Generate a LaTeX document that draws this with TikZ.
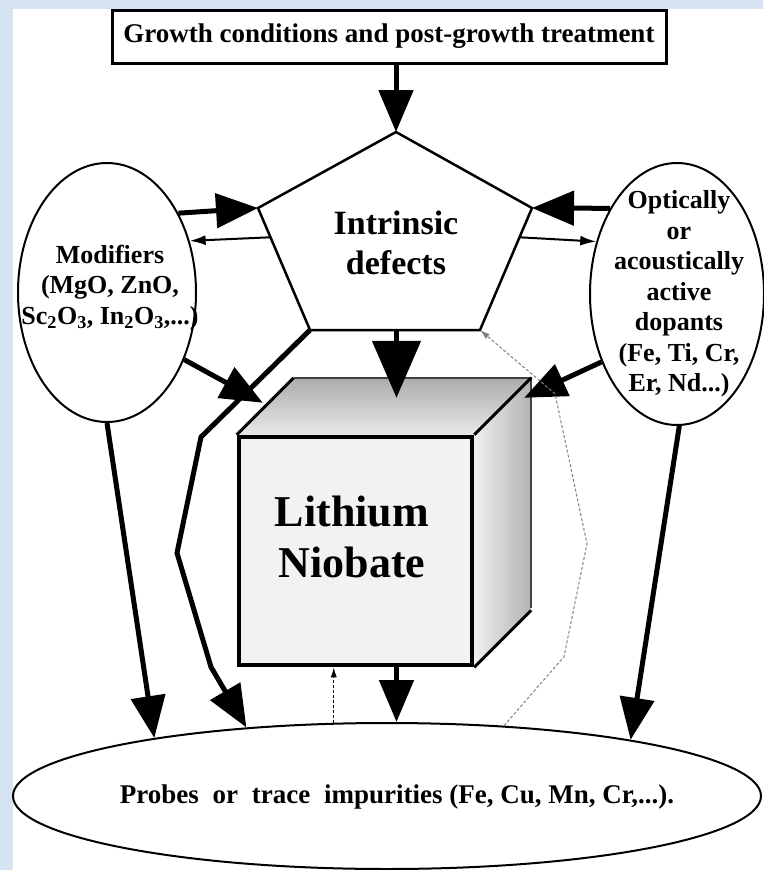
\documentclass[tikz,border=0pt]{standalone}
\usepackage{fontspec}
\setmainfont{Liberation Serif}
\usetikzlibrary{arrows.meta,shapes.geometric,calc}
\definecolor{bgblue}{RGB}{213,227,243}

\begin{document}
\begin{tikzpicture}[x=1pt, y=-1pt,
    base/.style = {draw=black, line width=2pt, inner sep=0pt},
    oval/.style = {base, ellipse},
    label/.style = {align=center, font=\bfseries\fontsize{26}{30.5}\selectfont},
    heavy/.style = {line width=5pt, -{Triangle[length=42pt,width=34pt]}},
    light/.style = {line width=2pt, -{Latex[length=16pt,width=10pt]}},
    faint/.style = {line width=1pt, densely dashed, -{Latex[length=10pt,width=6pt]}}
]
  % background
  \fill[bgblue] (0,0) rectangle (763,870);
  \fill[white] (13,9) rectangle (763,870);
  \useasboundingbox (0,0) rectangle (763,870);

  \node (growth) [base, line width=3pt, minimum width=554pt, minimum height=53pt,
    font=\bfseries\fontsize{27}{30}\selectfont] at (389,36.5)
    {Growth conditions and post-growth treatment};

  % pentagon
  \coordinate (ptop) at (396,132);
  \coordinate (pur) at (532,208);
  \coordinate (plr) at (480,330);
  \coordinate (pll) at (310,330);
  \coordinate (pul) at (258,208);
  \draw[line width=2.5pt] (ptop) -- (pur) -- (plr) -- (pll) -- (pul) -- cycle;
  \node (defects) [label, font=\bfseries\fontsize{34}{40}\selectfont] at (396,243) {Intrinsic\\defects};

  % side ellipses
  \node (mod) [oval, minimum width=178pt, minimum height=259pt] at (107,292.5) {};
  \node (modtext) [label] at (110,287.5)
    {Modifiers\\(MgO, ZnO,\\Sc\textsubscript{2}O\textsubscript{3}, In\textsubscript{2}O\textsubscript{3},...)};
  \node (dop) [oval, minimum width=174pt, minimum height=262pt] at (677,294) {};
  \node (doptext) [label] at (679,294)
    {Optically\\or\\acoustically\\active\\dopants\\(Fe, Ti, Cr,\\Er, Nd...)};

  % bottom ellipse
  \node (probe) [oval, minimum width=748pt, minimum height=146pt] at (387,796) {};
  \node (probetext) [label, font=\bfseries\fontsize{27}{30}\selectfont] at (397,797)
    {Probes\hspace{7pt} or\hspace{7pt} trace\hspace{7pt} impurities (Fe, Cu, Mn, Cr,...).};

  % crystal
  \node (cube) [draw, line width=4.5pt, fill=gray!10, minimum width=233pt,
    minimum height=228pt, inner sep=0pt] at (355.5,551) {};
  \shade[top color=gray!65, bottom color=gray!18] (cube.north west) -- ++(57,-57)
    -- ++(237,0) -- (cube.north east) -- cycle;
  \shade[left color=gray!12, right color=gray!60] (cube.north east) -- ++(57,-57)
    -- ++(0,230) -- (cube.south east) -- cycle;
  \draw[line width=1.5pt, black!75] (cube.north west) ++(57,-57) -- ++(237,0) -- ++(0,230);
  \draw[line width=3pt] (cube.north west) -- ++(57,-57);
  \draw[line width=3pt] (cube.north east) -- ++(57,-57);
  \draw[line width=3pt] (cube.south east) -- ++(57,-57);
  \node (lnb) [font=\bfseries\fontsize{44}{51}\selectfont, align=center] at (352,537) {Lithium\\Niobate};

  \coordinate (ctop) at ($(cube.north)+(41,-37)$);
  \coordinate (cleft) at ($(cube.north west)+(26,-32)$);
  \coordinate (cright) at ($(cube.north east)+(50,-37)$);

  % connectors
  \draw[heavy] (growth.south -| ptop) -- (ptop);
  \draw[heavy] (mod.48) -- (pul);
  \draw[light] ($(pul)!0.24!(pll)$) -- (mod.32);
  \draw[heavy] (dop.128) -- (pur);
  \draw[light] ($(pur)!0.24!(plr)$) -- (dop.147);
  \draw[heavy, -{Triangle[length=57pt,width=48pt]}] (ctop |- pll) -- (ctop);
  \draw[heavy] (mod.-41) -- (cleft);
  \draw[heavy] (dop.222) -- (cright);
  \draw[heavy] (mod.-90) -- (probe.166);
  \draw[heavy] (dop.-89) -- (probe.13);
  \draw[heavy] (pll) -- ++(-109,107) -- ++(-24,116) -- ++(34,114) -- (probe.154);
  \draw[heavy] (ctop |- cube.south) -- (ctop |- probe.north);
  \draw[faint] (probe.126) -- (probe.126 |- cube.south);
  \draw[faint, gray] (probe.31) -- ++(60,-69) -- ++(23,-113) -- ++(-32,-150) -- (plr);

\end{tikzpicture}
\end{document}
